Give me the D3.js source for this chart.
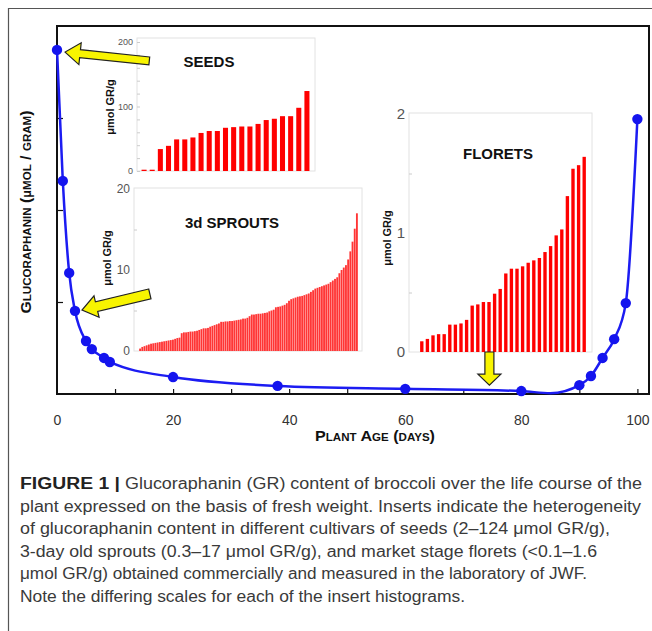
<!DOCTYPE html>
<html>
<head>
<meta charset="utf-8">
<script src="https://cdn.jsdelivr.net/npm/d3@7"></script>
<style>
  body { margin: 0; background: #fff; }
  text { font-family: "Liberation Sans", Arial, sans-serif; }
</style>
</head>
<body>
<div id="chart"></div>
<script>
// main curve: plant age (days) vs glucoraphanin (relative units, axis unlabelled)
var days = [0, 1, 2.1, 3.1, 5, 6, 8.1, 9.1, 20, 38, 60, 80, 85, 90, 92, 94, 96, 98, 100];
var glucoraphanin = [93.5, 57.9, 32.9, 22.6, 14.4, 12.2, 9.8, 8.7, 4.6, 2.2, 1.4, 0.8, 0.2, 2.4, 4.9, 9.8, 14.9, 24.7, 74.7];
var measured = [1, 1, 1, 1, 1, 1, 1, 1, 1, 1, 1, 1, 0, 1, 1, 1, 1, 1, 1];
var xTicks = [0, 20, 40, 60, 80, 100];

// insert histograms (umol GR/g), cultivars sorted
var seeds = [2, 2, 34, 39, 49, 49, 52, 59, 62, 62, 67, 68, 69, 69, 73, 79, 81, 85, 85, 98, 124];
var sprouts = [0.3, 0.5, 0.6, 0.7, 0.8, 0.9, 0.95, 1.0, 1.05, 1.1,
  1.15, 1.2, 1.25, 1.3, 1.35, 1.4, 1.5, 1.6, 1.65, 2.2,
  2.3, 2.3, 2.35, 2.4, 2.4, 2.45, 2.5, 2.6, 2.7, 2.8,
  2.8, 2.85, 3.0, 3.1, 3.2, 3.3, 3.4, 3.6, 3.6, 3.65,
  3.65, 3.7, 3.7, 3.75, 3.8, 3.85, 3.9, 4.0, 4.0, 4.1,
  4.3, 4.5, 4.5, 4.55, 4.6, 4.6, 4.65, 4.7, 4.75, 4.9,
  5.0, 5.1, 5.4, 5.45, 5.5, 5.6, 5.7, 5.9, 6.2, 6.4,
  6.5, 6.6, 6.7, 6.75, 6.8, 6.9, 7.0, 7.1, 7.3, 7.5,
  7.7, 7.8, 7.9, 8.0, 8.1, 8.2, 8.3, 8.5, 8.7, 8.9,
  9.1, 9.6, 10.0, 10.3, 10.6, 11.3, 12.3, 13.5, 15.1, 17.0];
var florets = [0.09, 0.11, 0.14, 0.15, 0.15, 0.23, 0.23, 0.24, 0.27, 0.39,
  0.40, 0.42, 0.42, 0.49, 0.53, 0.66, 0.70, 0.70, 0.72, 0.75,
  0.77, 0.79, 0.84, 0.89, 0.98, 1.03, 1.31, 1.54, 1.57, 1.64];

// yellow arrows, tip and tail in data units of the main chart
var arrowTips  = [[1.4, 92.9], [4.3, 22.8], [74.5, 2.4]];
var arrowTails = [[15.9, 90.5], [16.0, 27.2], [74.5, 11.4]];

var caption = [
  ["FIGURE 1 |", "Glucoraphanin (GR) content of broccoli over the life course of the", 642],
  ["", "plant expressed on the basis of fresh weight. Inserts indicate the heterogeneity", 641],
  ["", "of glucoraphanin content in different cultivars of seeds (2\u2013124 \u03bcmol GR/g),", 610],
  ["", "3-day old sprouts (0.3\u201317 \u03bcmol GR/g), and market stage florets (<0.1\u20131.6", 597],
  ["", "\u03bcmol GR/g) obtained commercially and measured in the laboratory of JWF.", 587],
  ["", "Note the differing scales for each of the insert histograms.", 465]
];

var W = 652, H = 631;
var svg = d3.select("#chart").append("svg")
    .attr("width", W)
    .attr("height", H);

svg.append("rect").attr("width", W).attr("height", H).attr("fill", "#fff");

// outer figure box (cropped on right and bottom)
svg.append("path")
    .attr("d", "M8.5," + H + "V8.5H" + W)
    .attr("fill", "none")
    .attr("stroke", "#555")
    .attr("stroke-width", 1.2);

var x = d3.scaleLinear().domain([0, 102]).range([57, 649]);
var y = d3.scaleLinear().domain([0, 100]).range([394, 26]);

// frame
svg.append("rect")
    .attr("x", x(0)).attr("y", y(100))
    .attr("width", x(102) - x(0)).attr("height", y(0) - y(100))
    .attr("fill", "none")
    .attr("stroke", "#111")
    .attr("stroke-width", 2);

// inward ticks
svg.append("g")
    .attr("transform", "translate(0," + y(0) + ")")
    .call(d3.axisBottom(x).tickValues(d3.range(10, 101, 10)).tickSize(-5).tickFormat(""))
    .call(function(g) { g.select(".domain").remove(); g.selectAll("line").attr("stroke", "#111").attr("stroke-width", 1.2); });

svg.append("g")
    .attr("transform", "translate(" + x(0) + ",0)")
    .call(d3.axisLeft(y).tickValues([25, 50, 75]).tickSize(-6).tickFormat(""))
    .call(function(g) { g.select(".domain").remove(); g.selectAll("line").attr("stroke", "#111").attr("stroke-width", 1.2); });

// x tick labels
svg.append("g")
    .attr("transform", "translate(0," + y(0) + ")")
    .call(d3.axisBottom(x).tickValues(xTicks).tickSize(0).tickPadding(21))
    .call(function(g) {
      g.select(".domain").remove();
      g.selectAll("text").attr("font-size", 14).attr("fill", "#333")
        .attr("font-family", "Liberation Sans, Arial, sans-serif");
    });

// axis titles
svg.append("text")
    .attr("x", 315).attr("y", 441)
    .attr("font-size", 14).attr("font-weight", "bold")
    .style("font-variant", "small-caps")
    .attr("textLength", 120).attr("lengthAdjust", "spacingAndGlyphs")
    .attr("fill", "#111")
    .text("Plant Age (days)");

var yt = svg.append("text")
    .attr("transform", "translate(31,212) rotate(-90)")
    .attr("text-anchor", "middle")
    .attr("font-size", 15).attr("font-weight", "bold")
    .style("font-variant", "small-caps")
    .attr("textLength", 203).attr("lengthAdjust", "spacingAndGlyphs")
    .attr("fill", "#111");
yt.append("tspan").text("Glucoraphanin (");
yt.append("tspan").style("font-variant", "normal").attr("font-size", 12).text("\u03bc");
yt.append("tspan").text("mol / gram)");

// insert histograms
function insert(vals, box, ymax, ticks, labels, labelSize, title, titlePos, ylabPos, pad, color) {
  var g = svg.append("g");
  g.append("rect")
      .attr("x", box[0]).attr("y", box[1])
      .attr("width", box[2] - box[0]).attr("height", box[3] - box[1])
      .attr("fill", "#fff").attr("stroke", "#e2e2e2").attr("stroke-width", 1);

  var yy = d3.scaleLinear().domain([0, ymax]).range([box[3], box[4]]);
  var xx = d3.scaleBand().domain(d3.range(vals.length))
      .range([box[0] + box[5], box[2] - box[6]]).paddingInner(pad).paddingOuter(pad / 2);

  g.append("g")
      .attr("transform", "translate(" + box[0] + ",0)")
      .call(d3.axisLeft(yy).tickValues(ticks).tickSize(-3).tickFormat(""))
      .call(function(a) { a.select(".domain").remove(); a.selectAll("line").attr("stroke", "#ccc"); });

  g.append("g")
      .attr("transform", "translate(" + box[0] + ",0)")
      .call(d3.axisLeft(yy).tickValues(labels).tickSize(0).tickPadding(4).tickFormat(d3.format("d")))
      .call(function(a) {
        a.select(".domain").remove();
        a.selectAll("text").attr("font-size", labelSize).attr("fill", "#555")
          .attr("font-family", "Liberation Sans Narrow, Liberation Sans, Arial, sans-serif");
      });

  g.selectAll(".bar")
      .data(vals)
      .enter().append("rect")
      .attr("x", function(d, i) { return xx(i); })
      .attr("width", xx.bandwidth())
      .attr("y", function(d) { return yy(d); })
      .attr("height", function(d) { return yy(0) - yy(d); })
      .attr("fill", color);

  g.append("text")
      .attr("x", titlePos[0]).attr("y", titlePos[1])
      .attr("text-anchor", "middle")
      .attr("font-size", 15).attr("font-weight", "bold").attr("fill", "#111")
      .text(title);

  g.append("text")
      .attr("transform", "translate(" + ylabPos[0] + "," + ylabPos[1] + ") rotate(-90)")
      .attr("text-anchor", "middle")
      .attr("font-size", 11).attr("font-weight", "bold").attr("fill", "#111")
      .text("\u03bcmol GR/g");
}

// box: [left, top, right, bottom, top of scale, inner left, inner right]
insert(seeds, [137, 38, 315, 171, 42, 3, 4], 200, d3.range(0, 201, 20), [0, 100, 200], 9,
  "SEEDS", [209, 67], [114, 107], 0.38, "#ff0000");
insert(sprouts, [134, 188, 362, 351, 189, 5, 4], 20, [5, 15], [0, 10, 20], 12,
  "3d SPROUTS", [232, 228], [111, 258], 0.15, "#ff3535");
insert(florets, [409, 113, 592, 352, 114, 10, 5], 2, [0.5, 1.5], [0, 1, 2], 15,
  "FLORETS", [498, 159], [391, 238], 0.4, "#ff0000");

// main curve
var line = d3.line()
    .x(function(d, i) { return x(days[i]); })
    .y(function(d) { return y(d); })
    .curve(d3.curveMonotoneX);

svg.append("path")
    .datum(glucoraphanin)
    .attr("d", line)
    .attr("fill", "none")
    .attr("stroke", "#1c1cf2")
    .attr("stroke-width", 2.5);

svg.selectAll(".dot")
    .data(d3.range(days.length).filter(function(i) { return measured[i]; }))
    .enter().append("circle")
    .attr("r", 5.2)
    .attr("cx", function(i) { return x(days[i]); })
    .attr("cy", function(i) { return y(glucoraphanin[i]); })
    .attr("fill", "#1414ee");

// arrows
function arrowPath(tip, tail, w, hw, hl) {
  var tx = x(tip[0]), ty = y(tip[1]), sx = x(tail[0]), sy = y(tail[1]);
  var len = Math.hypot(tx - sx, ty - sy);
  var dx = (tx - sx) / len, dy = (ty - sy) / len;
  var nx = -dy, ny = dx;
  var bx = tx - dx * hl, by = ty - dy * hl;
  var pts = [
    [sx + nx * w, sy + ny * w], [bx + nx * w, by + ny * w], [bx + nx * hw, by + ny * hw],
    [tx, ty],
    [bx - nx * hw, by - ny * hw], [bx - nx * w, by - ny * w], [sx - nx * w, sy - ny * w]
  ];
  return "M" + pts.map(function(p) { return p[0].toFixed(1) + "," + p[1].toFixed(1); }).join("L") + "Z";
}

var arrowShape = [[4, 11, 15], [5, 11, 15], [4.5, 11.5, 11]];
svg.selectAll(".arrow")
    .data(arrowTips)
    .enter().append("path")
    .attr("d", function(d, i) { return arrowPath(d, arrowTails[i], arrowShape[i][0], arrowShape[i][1], arrowShape[i][2]); })
    .attr("fill", "#f8f400")
    .attr("stroke", "#222")
    .attr("stroke-width", 1.2)
    .attr("stroke-linejoin", "miter");

// caption
var cap = svg.append("g")
    .attr("font-family", "Liberation Sans Narrow, Liberation Sans, Arial, sans-serif")
    .attr("font-size", 16)
    .attr("fill", "#3a3a3a");

caption.forEach(function(c, i) {
  var by = 489 + i * 22.5;
  var start = 20;
  if (c[0]) {
    cap.append("text")
        .attr("x", 20).attr("y", by)
        .attr("font-weight", "bold").attr("fill", "#222")
        .attr("textLength", 100).attr("lengthAdjust", "spacingAndGlyphs")
        .text(c[0]);
    start = 125;
  }
  cap.append("text")
      .attr("x", start).attr("y", by)
      .attr("textLength", c[2] - start).attr("lengthAdjust", "spacingAndGlyphs")
      .text(c[1]);
});
</script>
</body>
</html>
